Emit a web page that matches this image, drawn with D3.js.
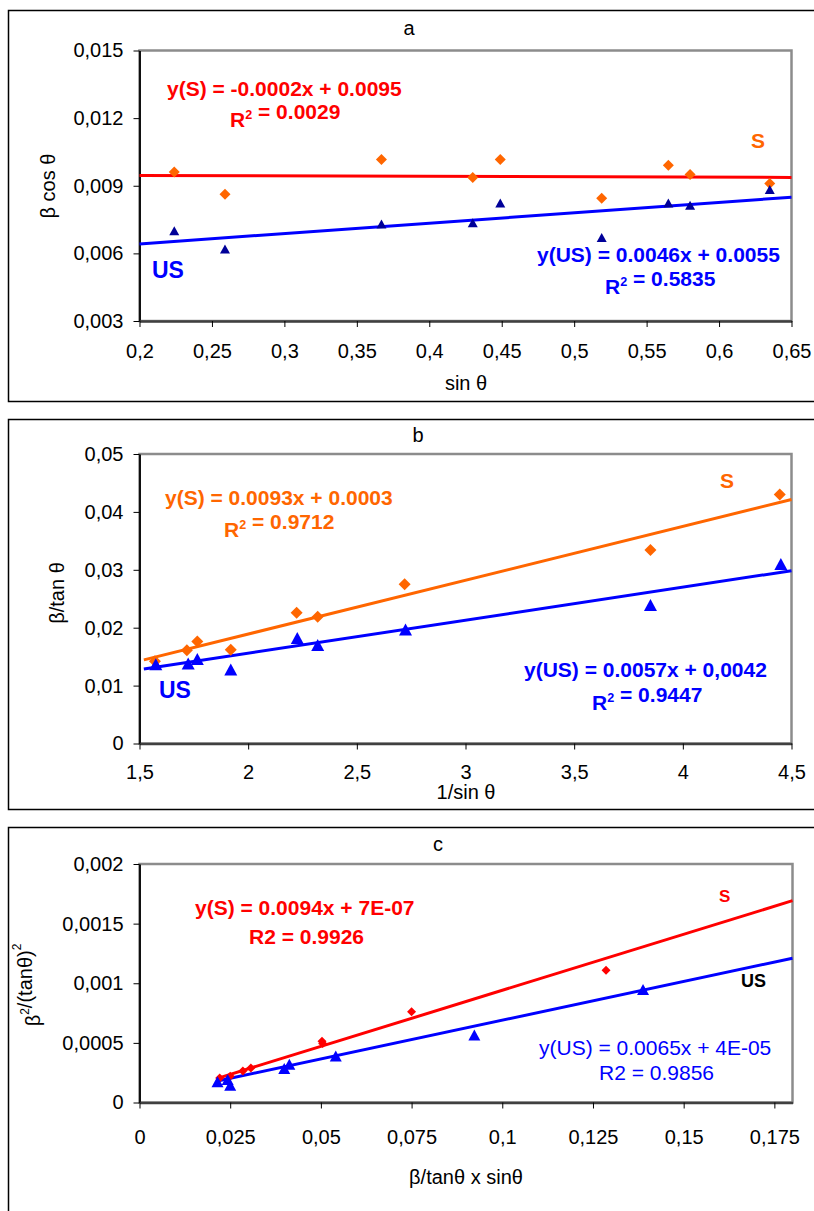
<!DOCTYPE html>
<html>
<head>
<meta charset="utf-8">
<script src="https://cdnjs.cloudflare.com/ajax/libs/d3/7.8.5/d3.min.js"></script>
<style>
  body { margin: 0; background: #fff; }
  text { font-family: "Liberation Sans", Arial, sans-serif; }
</style>
</head>
<body>
<script>
// ---- data ----
// panel a : beta cos theta vs sin theta
var aXS  = [0.224, 0.259, 0.367, 0.430, 0.449, 0.519, 0.565, 0.580, 0.635];
var aYS  = [0.00961, 0.00862, 0.01016, 0.00937, 0.01016, 0.00844, 0.00991, 0.00950, 0.00910];
var aXUS = [0.224, 0.259, 0.367, 0.430, 0.449, 0.519, 0.565, 0.580, 0.635];
var aYUS = [0.00700, 0.00619, 0.00730, 0.00736, 0.00824, 0.00670, 0.00824, 0.00814, 0.00883];
var aFitS = [-0.0002, 0.0095], aFitUS = [0.0046, 0.0055];
var aXTicks = [0.2, 0.25, 0.3, 0.35, 0.4, 0.45, 0.5, 0.55, 0.6, 0.65];
var aYTicks = [0.003, 0.006, 0.009, 0.012, 0.015];

// panel b : beta/tan theta vs 1/sin theta
var bXS  = [1.571, 1.718, 1.766, 1.920, 2.223, 2.320, 2.720, 3.851, 4.446];
var bYS  = [0.0142, 0.0161, 0.0176, 0.0162, 0.0226, 0.0219, 0.0275, 0.0334, 0.0430];
var bXUS = [1.575, 1.724, 1.766, 1.920, 2.226, 2.320, 2.724, 3.851, 4.451];
var bYUS = [0.0137, 0.0138, 0.0146, 0.0128, 0.0182, 0.0170, 0.0197, 0.0239, 0.0310];
var bFitS = [0.0093, 0.0003], bFitUS = [0.0057, 0.0042];
var bXTicks = [1.5, 2, 2.5, 3, 3.5, 4, 4.5];
var bYTicks = [0, 0.01, 0.02, 0.03, 0.04, 0.05];

// panel c : beta^2/tan^2 vs beta/tan x sin
var cXS  = [0.0221, 0.0250, 0.0285, 0.0307, 0.0503, 0.0505, 0.0750, 0.1286];
var cYS  = [0.000206, 0.000220, 0.000265, 0.000290, 0.000514, 0.000495, 0.000760, 0.001110];
var cXUS = [0.0215, 0.0243, 0.0250, 0.0399, 0.0413, 0.0541, 0.0923, 0.1388];
var cYUS = [0.000173, 0.000193, 0.000145, 0.000285, 0.000321, 0.000389, 0.000565, 0.000948];
var cFitS = [0.0094, 0.0000007], cFitUS = [0.0065, 0.00004];
var cXTicks = [0, 0.025, 0.05, 0.075, 0.1, 0.125, 0.15, 0.175];
var cYTicks = [0, 0.0005, 0.001, 0.0015, 0.002];

var svg = d3.select("body").append("svg")
  .attr("width", 814)
  .attr("height", 1211);

function fmt(v) { return String(v).replace(".", ","); }

function diamond(s) {
  var h = s / 2;
  return "M0," + (-h) + "L" + h + ",0L0," + h + "L" + (-h) + ",0Z";
}
function triangle(w, h) {
  return "M0," + (-h / 2) + "L" + (w / 2) + "," + (h / 2) + "L" + (-w / 2) + "," + (h / 2) + "Z";
}

// label with optional superscript pieces: parts = [[text, isSup], ...]
function label(g, parts, x, y, size, color, weight, anchor) {
  var t = g.append("text")
    .attr("x", x).attr("y", y)
    .attr("font-size", size + "px")
    .attr("font-weight", weight || "normal")
    .attr("fill", color || "#000")
    .attr("text-anchor", anchor || "start");
  parts.forEach(function(p) {
    if (p[1]) {
      t.append("tspan").attr("dy", -size * 0.4).attr("font-size", (size * 0.6) + "px").text(p[0]);
      t.append("tspan").attr("dy", size * 0.4).text("");
    } else {
      t.append("tspan").text(p[0]);
    }
  });
  return t;
}

function drawPanel(p) {
  var g = svg.append("g");

  // outer frame
  g.append("rect")
    .attr("x", 8.5).attr("y", p.frame[0] + 0.5)
    .attr("width", 830).attr("height", p.frame[1] - p.frame[0])
    .attr("fill", "none").attr("stroke", "#000").attr("stroke-width", 1.5);

  var x = d3.scaleLinear().domain(p.xDomain).range([p.left, p.right]);
  var y = d3.scaleLinear().domain(p.yDomain).range([p.bottom, p.top]);

  // plot area border (grey)
  g.append("rect")
    .attr("x", p.left).attr("y", p.top)
    .attr("width", p.right - p.left).attr("height", p.bottom - p.top)
    .attr("fill", "none").attr("stroke", "#8c8c8c").attr("stroke-width", 2.5);

  // axes
  var ya = g.append("g")
    .attr("transform", "translate(" + p.left + ",0)")
    .call(d3.axisLeft(y).tickValues(p.yTicks).tickFormat(fmt).tickSize(6).tickSizeOuter(0).tickPadding(10));
  ya.select(".domain").attr("stroke", "#000").attr("stroke-width", 1.8);
  ya.selectAll("line").attr("stroke", "#000");
  ya.selectAll("text").attr("font-size", "20px").attr("fill", "#000")
    .style("font-family", "'Liberation Sans', Arial, sans-serif");

  var xa = g.append("g")
    .attr("transform", "translate(0," + p.bottom + ")")
    .call(d3.axisBottom(x).tickValues(p.xTicks).tickFormat(fmt).tickSize(6).tickSizeOuter(0).tickPadding(p.xPad));
  xa.select(".domain").attr("stroke", "#404040").attr("stroke-width", 2.5);
  xa.selectAll("line").attr("stroke", "#000");
  xa.selectAll("text").attr("font-size", "20px").attr("fill", "#000")
    .style("font-family", "'Liberation Sans', Arial, sans-serif");

  // trend lines
  var line = d3.line().x(function(d) { return x(d); });
  p.fits.forEach(function(f) {
    g.append("path")
      .datum(f.range)
      .attr("d", line.y(function(d) { return y(f.k[0] * d + f.k[1]); }))
      .attr("fill", "none").attr("stroke", f.color).attr("stroke-width", 3);
  });

  // markers
  p.series.forEach(function(s) {
    g.selectAll(null)
      .data(s.xs.map(function(v, i) { return [v, s.ys[i]]; }))
      .enter().append("path")
      .attr("transform", function(d) { return "translate(" + x(d[0]) + "," + y(d[1]) + ")"; })
      .attr("d", s.shape)
      .attr("fill", s.color);
  });

  // titles
  label(g, [[p.title]], p.titlePos[0], p.titlePos[1], 20, "#000", "normal", "middle")
    .attr("dominant-baseline", "central");
  label(g, p.xLabel, 466, p.xLabelY, 20, "#000", "normal", "middle")
    .attr("dominant-baseline", "central");
  label(g, p.yLabel, 0, 0, 20, "#000", "normal", "middle")
    .attr("dominant-baseline", "central")
    .attr("transform", "translate(" + p.yLabelPos[0] + "," + p.yLabelPos[1] + ") rotate(-90)");

  p.notes.forEach(function(n) {
    label(g, n.parts, n.x, n.y, n.size, n.color, n.weight, "start");
  });
}

drawPanel({
  frame: [10, 401], left: 139.5, right: 791.5, top: 50.5, bottom: 321,
  xDomain: [0.2, 0.65], yDomain: [0.003, 0.015], xTicks: aXTicks, yTicks: aYTicks, xPad: 17,
  title: "a", titlePos: [409, 28],
  xLabel: [["sin θ"]], xLabelY: 383,
  yLabel: [["β cos θ"]], yLabelPos: [48, 186],
  fits: [
    { k: aFitS, range: [0.2, 0.65], color: "#ff0000" },
    { k: aFitUS, range: [0.2, 0.65], color: "#0000ff" }
  ],
  series: [
    { xs: aXS, ys: aYS, shape: diamond(11), color: "#ff6600" },
    { xs: aXUS, ys: aYUS, shape: triangle(10, 9), color: "#000099" }
  ],
  notes: [
    { parts: [["y(S) = -0.0002x + 0.0095"]], x: 167, y: 96, size: 21, color: "#ff0000", weight: "bold" },
    { parts: [["R"], ["2", true], [" = 0.0029"]], x: 230, y: 127, size: 21, color: "#ff0000", weight: "bold" },
    { parts: [["S"]], x: 751, y: 148, size: 21, color: "#ff6600", weight: "bold" },
    { parts: [["US"]], x: 152, y: 278, size: 23, color: "#0000ff", weight: "bold" },
    { parts: [["y(US) = 0.0046x + 0.0055"]], x: 537, y: 262, size: 21, color: "#0000ff", weight: "bold" },
    { parts: [["R"], ["2", true], [" = 0.5835"]], x: 605, y: 294, size: 21, color: "#0000ff", weight: "bold" }
  ]
});

drawPanel({
  frame: [419, 809], left: 139.5, right: 791.5, top: 454, bottom: 743.5,
  xDomain: [1.5, 4.5], yDomain: [0, 0.05], xTicks: bXTicks, yTicks: bYTicks, xPad: 15,
  title: "b", titlePos: [418, 435],
  xLabel: [["1/sin θ"]], xLabelY: 792,
  yLabel: [["β/tan θ"]], yLabelPos: [57, 593],
  fits: [
    { k: bFitS, range: [1.52, 4.5], color: "#ff6600" },
    { k: bFitUS, range: [1.52, 4.5], color: "#0000ff" }
  ],
  series: [
    { xs: bXS, ys: bYS, shape: diamond(12), color: "#ff6600" },
    { xs: bXUS, ys: bYUS, shape: triangle(13, 12), color: "#0000ff" }
  ],
  notes: [
    { parts: [["y(S) = 0.0093x + 0.0003"]], x: 165, y: 505, size: 21, color: "#ff6600", weight: "bold" },
    { parts: [["R"], ["2", true], [" = 0.9712"]], x: 224, y: 537, size: 21, color: "#ff6600", weight: "bold" },
    { parts: [["S"]], x: 720, y: 488, size: 21, color: "#ff6600", weight: "bold" },
    { parts: [["US"]], x: 159, y: 698, size: 23, color: "#0000ff", weight: "bold" },
    { parts: [["y(US) = 0.0057x + 0,0042"]], x: 524, y: 677, size: 21, color: "#0000ff", weight: "bold" },
    { parts: [["R"], ["2", true], [" = 0.9447"]], x: 592, y: 710, size: 21, color: "#0000ff", weight: "bold" }
  ]
});

drawPanel({
  frame: [827, 1230], left: 139.5, right: 792.5, top: 864, bottom: 1102.5,
  xDomain: [0, 0.18], yDomain: [0, 0.002], xTicks: cXTicks, yTicks: cYTicks, xPad: 21,
  title: "c", titlePos: [438, 844],
  xLabel: [["β/tanθ x sinθ"]], xLabelY: 1177,
  yLabel: [["β"], ["2", true], ["/(tanθ)"], ["2", true]], yLabelPos: [33, 985],
  fits: [
    { k: cFitS, range: [0.0215, 0.18], color: "#ff0000" },
    { k: cFitUS, range: [0.0212, 0.18], color: "#0000ff" }
  ],
  series: [
    { xs: cXS, ys: cYS, shape: diamond(9), color: "#ff0000" },
    { xs: cXUS, ys: cYUS, shape: triangle(12, 11), color: "#0000ff" }
  ],
  notes: [
    { parts: [["y(S) = 0.0094x + 7E-07"]], x: 195, y: 915, size: 21, color: "#ff0000", weight: "bold" },
    { parts: [["R2 = 0.9926"]], x: 249, y: 944, size: 21, color: "#ff0000", weight: "bold" },
    { parts: [["S"]], x: 719, y: 902, size: 17, color: "#ff0000", weight: "bold" },
    { parts: [["US"]], x: 741, y: 987, size: 18, color: "#000", weight: "bold" },
    { parts: [["y(US) = 0.0065x + 4E-05"]], x: 539, y: 1055, size: 21, color: "#0000ff", weight: "normal" },
    { parts: [["R2 = 0.9856"]], x: 599, y: 1080, size: 21, color: "#0000ff", weight: "normal" }
  ]
});
</script>
</body>
</html>
